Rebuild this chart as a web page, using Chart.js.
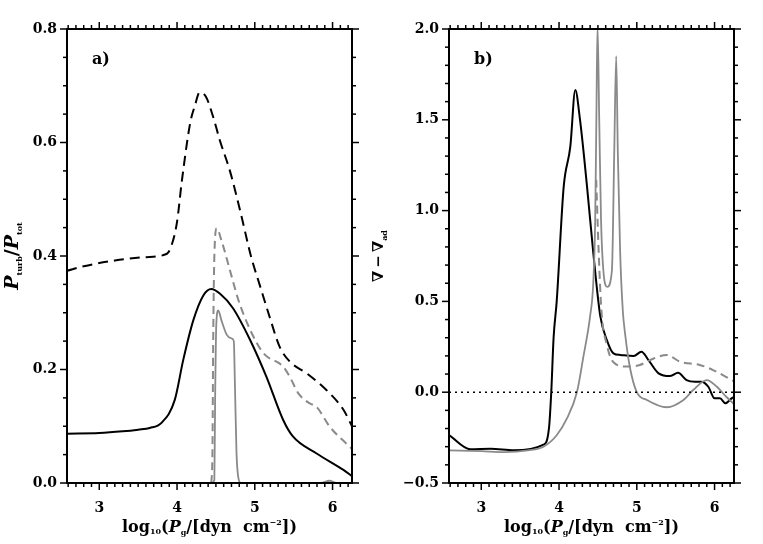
<!DOCTYPE html>
<html>
<head>
<meta charset="utf-8">
<script src="https://cdn.jsdelivr.net/npm/chart.js@4.4.1/dist/chart.umd.min.js"></script>
<style>
  html, body { margin: 0; padding: 0; background: #fff; }
  #wrap { position: relative; width: 763px; height: 544px; overflow: hidden; }
  canvas { position: absolute; top: 0; }
  #panel-a { left: 0; }
  #panel-b { left: 370px; }
</style>
</head>
<body>
<div id="wrap">
  <canvas id="panel-a" width="376" height="544"></canvas>
  <canvas id="panel-b" width="393" height="544"></canvas>
</div>
<script>
// x range shared by both panels: log10(Pg)
const xRange = [2.585, 6.25];
const xMajorTicks = [3, 4, 5, 6];

// --- panel a) Pturb/Ptot ---
const aBlackDashX = [2.585, 2.8, 3.2, 3.6, 3.87, 3.93, 4.0, 4.06, 4.17, 4.23, 4.29, 4.37, 4.465, 4.55, 4.68, 4.82, 4.95, 5.07, 5.19, 5.32, 5.45, 5.67, 5.92, 6.14, 6.25];
const aBlackDashY = [0.374, 0.382, 0.392, 0.398, 0.404, 0.419, 0.46, 0.53, 0.635, 0.665, 0.688, 0.681, 0.645, 0.604, 0.55, 0.475, 0.40, 0.346, 0.293, 0.240, 0.214, 0.193, 0.164, 0.129, 0.10];

const aBlackSolidX = [2.585, 3.0, 3.3, 3.5, 3.65, 3.8, 3.97, 4.08, 4.21, 4.34, 4.44, 4.55, 4.72, 4.94, 5.15, 5.365, 5.49, 5.795, 6.14, 6.25];
const aBlackSolidY = [0.087, 0.088, 0.091, 0.094, 0.097, 0.106, 0.146, 0.217, 0.287, 0.331, 0.342, 0.334, 0.308, 0.252, 0.187, 0.111, 0.082, 0.052, 0.023, 0.012];

const aGreyDashX = [4.44, 4.455, 4.465, 4.48, 4.51, 4.57, 4.68, 4.79, 4.94, 5.11, 5.365, 5.45, 5.56, 5.71, 5.795, 5.965, 6.22, 6.25];
const aGreyDashY = [0.0, 0.05, 0.25, 0.40, 0.449, 0.428, 0.375, 0.322, 0.270, 0.229, 0.205, 0.187, 0.158, 0.140, 0.134, 0.099, 0.064, 0.06];

const aGreySolidX = [4.44, 4.48, 4.49, 4.505, 4.53, 4.57, 4.64, 4.70, 4.73, 4.745, 4.765, 4.79, 4.82, 5.85, 5.96, 6.05, 6.25];
const aGreySolidY = [0.0, 0.005, 0.15, 0.28, 0.304, 0.287, 0.261, 0.255, 0.25, 0.17, 0.052, 0.008, 0.0, 0.0, 0.004, 0.0, 0.0];

const aYTicks = [0.0, 0.2, 0.4, 0.6, 0.8];

// --- panel b) nabla - nabla_ad ---
const bBlackSolidX = [2.59, 2.86, 3.12, 3.42, 3.80, 3.87, 3.90, 3.93, 3.97, 4.06, 4.145, 4.209, 4.27, 4.36, 4.44, 4.53, 4.615, 4.70, 4.79, 4.96, 5.06, 5.15, 5.28, 5.43, 5.53, 5.64, 5.75, 5.83, 5.92, 6.0, 6.07, 6.14, 6.22, 6.25];
const bBlackSolidY = [-0.237, -0.314, -0.311, -0.320, -0.289, -0.201, 0.0, 0.30, 0.50, 1.132, 1.352, 1.664, 1.499, 1.132, 0.77, 0.42, 0.287, 0.214, 0.205, 0.199, 0.223, 0.177, 0.104, 0.089, 0.107, 0.067, 0.058, 0.058, 0.030, -0.034, -0.034, -0.061, -0.034, -0.026];

const bGreySolidX = [2.59, 3.0, 3.3, 3.6, 3.80, 3.97, 4.10, 4.23, 4.315, 4.40, 4.44, 4.465, 4.48, 4.495, 4.517, 4.54, 4.57, 4.62, 4.68, 4.71, 4.735, 4.756, 4.786, 4.82, 4.85, 4.91, 5.0, 5.13, 5.385, 5.60, 5.725, 5.90, 6.03, 6.15, 6.25];
const bGreySolidY = [-0.32, -0.325, -0.33, -0.32, -0.30, -0.237, -0.146, 0.0, 0.20, 0.42, 0.60, 0.95, 1.5, 2.02, 1.5, 0.95, 0.67, 0.58, 0.67, 1.32, 1.85, 1.32, 0.77, 0.45, 0.32, 0.14, 0.0, -0.043, -0.083, -0.043, 0.012, 0.067, 0.03, -0.025, -0.065];

const bGreyDashX = [4.478, 4.51, 4.545, 4.615, 4.70, 4.87, 5.04, 5.17, 5.385, 5.555, 5.81, 5.98, 6.22, 6.25];
const bGreyDashY = [1.17, 0.77, 0.45, 0.26, 0.165, 0.141, 0.15, 0.177, 0.205, 0.168, 0.15, 0.122, 0.067, 0.06];

const bZeroX = [2.585, 6.25];
const bZeroY = [0, 0];

const bYTicks = [-0.5, 0.0, 0.5, 1.0, 1.5, 2.0];

const GREY = "#8a8a8a";
const SERIF = '"DejaVu Serif", serif';

Chart.defaults.font.family = SERIF;
Chart.defaults.color = "#000";

const pts = (xs, ys) => xs.map((x, i) => ({ x, y: ys[i] }));

function line(xs, ys, color, dash, width) {
  return {
    data: pts(xs, ys),
    borderColor: color,
    borderWidth: width || 2,
    borderDash: dash || [],
    pointRadius: 0,
    fill: false,
    cubicInterpolationMode: "monotone",
  };
}

// draw a run of text pieces [text, font, dy] side by side
function drawRich(ctx, segs, x, y) {
  let w = 0;
  segs.forEach((s) => {
    ctx.font = s[1];
    w += ctx.measureText(s[0]).width;
  });
  let cx = x - w / 2;
  segs.forEach((s) => {
    ctx.font = s[1];
    ctx.fillText(s[0], cx, y + (s[2] || 0));
    cx += ctx.measureText(s[0]).width;
  });
}

const fmtTick = (v) => (v < 0 ? "\u2212" + Math.abs(v).toFixed(1) : v.toFixed(1));

// frame, outward ticks on all four sides, titles and panel letter
const framePlugin = {
  id: "frame",
  afterDraw(chart, args, o) {
    const { ctx, chartArea: a, scales } = chart;
    const x = scales.x, y = scales.y;
    ctx.save();
    ctx.strokeStyle = "#000";
    ctx.lineWidth = 1.5;
    const seg = (x1, y1, x2, y2) => {
      ctx.beginPath();
      ctx.moveTo(x1, y1);
      ctx.lineTo(x2, y2);
      ctx.stroke();
    };
    for (let i = Math.ceil(x.min * 10); i <= Math.floor(x.max * 10); i++) {
      const px = x.getPixelForValue(i / 10);
      const len = i % 10 === 0 ? 7 : 4;
      seg(px, a.bottom, px, a.bottom + len);
      seg(px, a.top, px, a.top - len);
    }
    const n = Math.round((y.max - y.min) / o.yMinor);
    for (let i = 0; i <= n; i++) {
      const v = y.min + i * o.yMinor;
      const py = y.getPixelForValue(v);
      const major = Math.abs(v / o.yMajor - Math.round(v / o.yMajor)) < 1e-6;
      const len = major ? 7 : 4;
      seg(a.left, py, a.left - len, py);
      seg(a.right, py, a.right + len, py);
    }
    ctx.lineWidth = 2;
    ctx.strokeRect(a.left, a.top, a.right - a.left, a.bottom - a.top);

    ctx.fillStyle = "#000";
    ctx.textBaseline = "alphabetic";
    // x title
    const big = "bold 16px " + SERIF, small = "bold 8px " + SERIF;
    drawRich(ctx, [
      ["log", big], ["10", small, 2], ["(", big], ["P", "bold italic 16px " + SERIF],
      ["g", small, 3], ["/[dyn  cm", big], ["\u22122", small, -7], ["])", big],
    ], (a.left + a.right) / 2, 532);

    // y title, rotated
    ctx.save();
    ctx.translate(o.yTitleX, (a.top + a.bottom) / 2);
    ctx.rotate(-Math.PI / 2);
    drawRich(ctx, o.yTitle, 0, 0);
    ctx.restore();

    // panel letter
    ctx.font = "bold 16px " + SERIF;
    ctx.fillText(o.letter, a.left + 25, a.top + 35);
    ctx.restore();
  },
};

function makePanel(id, datasets, yMin, yMax, yTicks, plotLeft, plotRight, frameOpts) {
  const canvas = document.getElementById(id);
  return new Chart(canvas, {
    type: "line",
    data: { datasets },
    options: {
      responsive: false,
      animation: false,
      layout: { padding: { left: 0, right: canvas.width - plotRight, top: 29, bottom: 0 } },
      plugins: { legend: { display: false }, tooltip: { enabled: false }, frame: frameOpts },
      scales: {
        x: {
          type: "linear",
          min: xRange[0],
          max: xRange[1],
          afterFit: (s) => { s.height = 61; },
          afterBuildTicks: (s) => { s.ticks = xMajorTicks.map((v) => ({ value: v })); },
          grid: { display: false, drawTicks: false },
          border: { display: false },
          ticks: { font: { size: 14, weight: "bold" }, padding: 17, maxRotation: 0 },
        },
        y: {
          min: yMin,
          max: yMax,
          afterFit: (s) => { s.width = plotLeft; },
          afterBuildTicks: (s) => { s.ticks = yTicks.map((v) => ({ value: v })); },
          grid: { display: false, drawTicks: false },
          border: { display: false },
          ticks: { font: { size: 14, weight: "bold" }, padding: 10, callback: fmtTick },
        },
      },
    },
    plugins: [framePlugin],
  });
}

makePanel("panel-a", [
  line(aBlackDashX, aBlackDashY, "#000", [10, 6], 2),
  line(aBlackSolidX, aBlackSolidY, "#000", [], 2),
  line(aGreyDashX, aGreyDashY, GREY, [8, 5], 2),
  line(aGreySolidX, aGreySolidY, GREY, [], 1.8),
], 0, 0.8, aYTicks, 67, 352, {
  yMinor: 0.05, yMajor: 0.2, letter: "a)", yTitleX: 18,
  yTitle: [
    ["P", "bold italic 19px " + SERIF], ["turb", "bold 8px " + SERIF, 4],
    ["/", "bold 19px " + SERIF], ["P", "bold italic 19px " + SERIF], ["tot", "bold 8px " + SERIF, 4],
  ],
});

makePanel("panel-b", [
  line(bZeroX, bZeroY, "#000", [2, 4], 1.5),
  line(bGreyDashX, bGreyDashY, GREY, [8, 5], 2),
  line(bGreySolidX, bGreySolidY, GREY, [], 1.8),
  line(bBlackSolidX, bBlackSolidY, "#000", [], 2),
], -0.5, 2.0, bYTicks, 79, 364, {
  yMinor: 0.1, yMajor: 0.5, letter: "b)", yTitleX: 13,
  yTitle: [
    ["\u2207\u2009\u2212\u2009\u2207", "bold 15px " + SERIF], ["ad", "bold 8px " + SERIF, 4],
  ],
});
</script>
</body>
</html>
